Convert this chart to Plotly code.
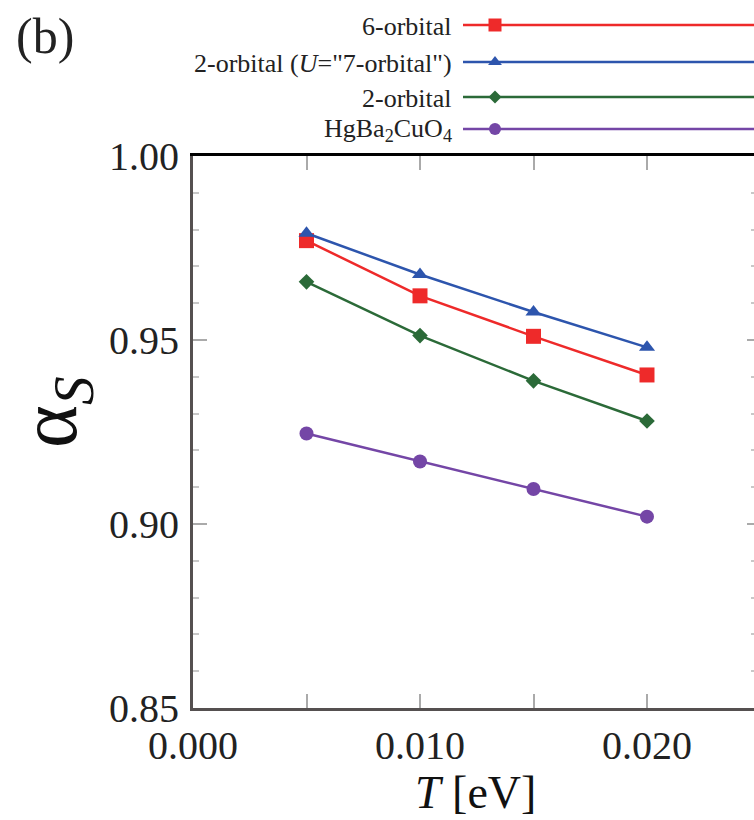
import plotly.graph_objects as go

# ---------------- data ----------------
T_eV = [0.005, 0.010, 0.015, 0.020]
six_orbital = [0.977, 0.962, 0.951, 0.9405]
two_orbital_U7 = [0.979, 0.9678, 0.9576, 0.948]
two_orbital = [0.9658, 0.9512, 0.9389, 0.928]
hgba2cuo4 = [0.9246, 0.917, 0.9095, 0.902]

series_names = ["6-orbital", "2-orbital (<i>U</i>=\"7-orbital\")", "2-orbital", "HgBa<sub>2</sub>CuO<sub>4</sub>"]
series_values = [six_orbital, two_orbital_U7, two_orbital, hgba2cuo4]

x_tickvals = [0.000, 0.005, 0.010, 0.015, 0.020]
x_ticktext = ["0.000", "", "0.010", "", "0.020"]
y_tickvals = [0.85, 0.90, 0.95, 1.00]
y_ticktext = ["0.85", "0.90", "0.95", "1.00"]

# ---------------- styles ----------------
W, H = 754, 820
colors = ["#ee2a2a", "#2d55ad", "#2b6a38", "#7446a6"]
symbols = ["square", "triangle-up", "diamond", "circle"]
msizes = [15, 14, 12, 14]
FONT = "Liberation Serif, Times New Roman, serif"

x0_px, x1_px = 193, 754
ytop_px, ybot_px = 156, 708
x_per_px = 0.005 / 113.5
x_range = [0.0, (x1_px - x0_px) * x_per_px]
y_range = [0.85, 1.00]

fig = go.Figure()

for name, vals, c, s, ms in zip(series_names, series_values, colors, symbols, msizes):
    fig.add_trace(go.Scatter(
        x=T_eV, y=vals, mode="lines+markers", name=name,
        line=dict(color=c, width=2.5),
        marker=dict(symbol=s, size=ms, color=c, line=dict(width=0)),
        xaxis="x", yaxis="y", showlegend=False, cliponaxis=False))

# custom legend (text left of sample) on a pixel-unit overlay axis
leg_rows = [25, 62, 97, 129]
leg_line_x = [463, 754]
leg_marker_x = 495
for name, c, s, ms, ry in zip(series_names, colors, symbols, msizes, leg_rows):
    fig.add_trace(go.Scatter(
        x=leg_line_x, y=[ry] * 2, mode="lines",
        line=dict(color=c, width=2.5),
        xaxis="x2", yaxis="y2", showlegend=False, hoverinfo="skip", cliponaxis=False))
    fig.add_trace(go.Scatter(
        x=[leg_marker_x], y=[ry], mode="markers",
        marker=dict(symbol=s, size=ms - 2, color=c, line=dict(width=0)),
        xaxis="x2", yaxis="y2", showlegend=False, hoverinfo="skip", cliponaxis=False))
    fig.add_annotation(x=454, y=ry + 1, xref="x2", yref="y2", text=name,
                       showarrow=False, xanchor="right", yanchor="middle",
                       font=dict(family=FONT, size=26, color="#222"))

# dummy traces so overlay axes render
fig.add_trace(go.Scatter(x=[], y=[], xaxis="x3", yaxis="y", showlegend=False))
fig.add_trace(go.Scatter(x=[], y=[], xaxis="x", yaxis="y3", showlegend=False))

xdom = [x0_px / W, 1.0]
ydom = [(H - ybot_px) / H, (H - ytop_px) / H]

tickfont = dict(family=FONT, size=40, color="#222")

fig.update_layout(
    template="none",
    width=W, height=H,
    margin=dict(l=0, r=0, t=0, b=0, pad=0, autoexpand=False),
    paper_bgcolor="white", plot_bgcolor="rgba(0,0,0,0)",
    showlegend=False,
    xaxis=dict(domain=xdom, range=x_range, anchor="y", automargin=False,
               tickmode="array", tickvals=x_tickvals, ticktext=x_ticktext,
               ticks="inside", ticklen=14, tickwidth=2, tickcolor="#aaaaaa",
               showline=True, linecolor="#555050", linewidth=3,
               showgrid=False, zeroline=False, tickfont=tickfont,
               ticklabelstandoff=0),
    yaxis=dict(domain=ydom, range=y_range, anchor="x", automargin=False,
               tickmode="array", tickvals=y_tickvals, ticktext=y_ticktext,
               ticks="inside", ticklen=14, tickwidth=2, tickcolor="#aaaaaa",
               minor=dict(ticks="inside", dtick=0.01, tick0=0.85, ticklen=6,
                          tickwidth=2, tickcolor="#c8c8c8", showgrid=False),
               showline=True, linecolor="#555050", linewidth=3,
               showgrid=False, zeroline=False, tickfont=tickfont,
               ticklabelstandoff=3),
    xaxis3=dict(overlaying="x", side="top", anchor="y", range=x_range, automargin=False,
                tickmode="array", tickvals=x_tickvals,
                ticks="inside", ticklen=14, tickwidth=2, tickcolor="#aaaaaa",
                showticklabels=False, showline=True, linecolor="#000000",
                linewidth=3, showgrid=False, zeroline=False),
    yaxis3=dict(overlaying="y", side="right", anchor="x", range=y_range, automargin=False,
                tickmode="array", tickvals=y_tickvals,
                ticks="inside", ticklen=7, tickwidth=2, tickcolor="#aaaaaa",
                minor=dict(ticks="inside", dtick=0.01, tick0=0.85, ticklen=3,
                           tickwidth=2, tickcolor="#c8c8c8", showgrid=False),
                showticklabels=False, showline=False, showgrid=False, zeroline=False),
    xaxis2=dict(domain=[0, 1], range=[0, W], anchor="y2", visible=False, automargin=False),
    yaxis2=dict(domain=[0, 1], range=[H, 0], anchor="x2", visible=False, automargin=False),
)

# axis titles and panel label
fig.add_annotation(x=54 / W, y=1 - 412 / H, xref="paper", yref="paper",
                   text="α<sub><i>S</i></sub>", textangle=-90, showarrow=False,
                   xanchor="center", yanchor="middle",
                   font=dict(family=FONT, size=82, color="#111"))
fig.add_annotation(x=475 / W, y=1 - 792 / H, xref="paper", yref="paper",
                   text="<i>T</i> [eV]", showarrow=False,
                   xanchor="center", yanchor="middle",
                   font=dict(family=FONT, size=46, color="#111"))
fig.add_annotation(x=14 / W, y=1 - 36 / H, xref="paper", yref="paper",
                   text="(b)", showarrow=False, xanchor="left", yanchor="middle",
                   font=dict(family=FONT, size=50, color="#222"))

fig.write_html("out.html", config={"displayModeBar": False},
               post_script="document.body.style.margin='0';document.body.style.overflow='hidden';")
